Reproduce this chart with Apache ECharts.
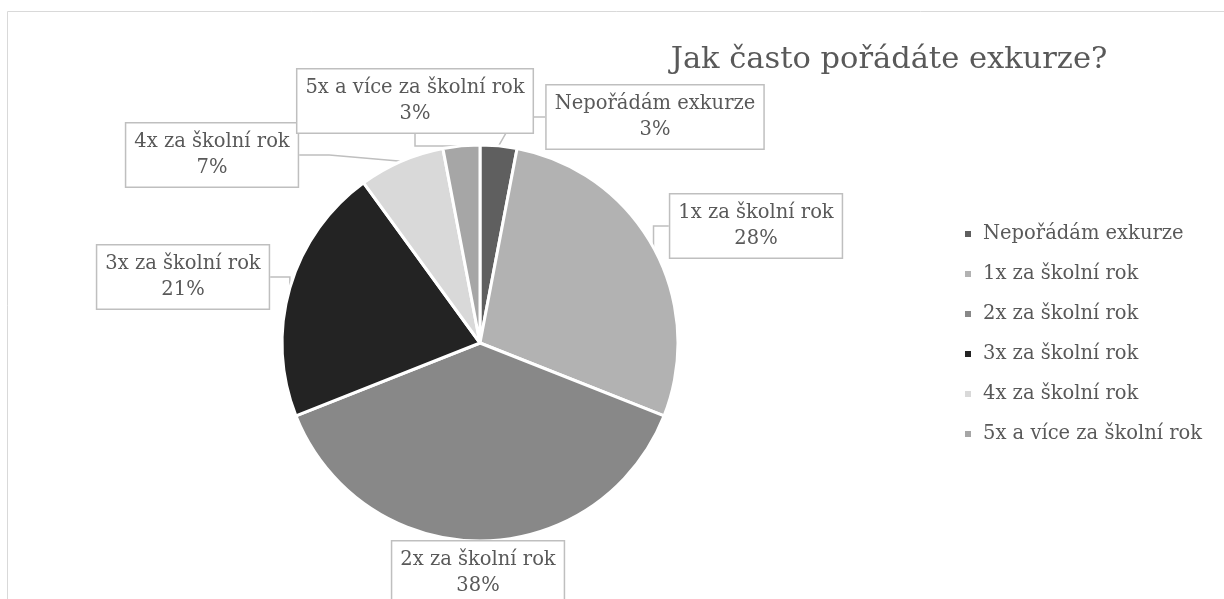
<!DOCTYPE html>
<html>
<head>
<meta charset="utf-8">
<script src="https://cdn.jsdelivr.net/npm/echarts@6/dist/echarts.min.js"></script>
<style>
    html, body { margin: 0; padding: 0; background: #fff; }
    #chart { width: 1224px; height: 599px; }
</style>
</head>
<body>
<div id="chart"></div>
<script>
var categories = ['Nepořádám exkurze', '1x za školní rok', '2x za školní rok',
    '3x za školní rok', '4x za školní rok', '5x a více za školní rok'];
var values = [3, 28, 38, 21, 7, 3];
var colors = ['#5f5f5f', '#b2b2b2', '#888888', '#232323', '#d9d9d9', '#a6a6a6'];

// label box centres (callouts placed by hand like in the source)
var labelPos = [[655, 117], [756, 226], [478, 573], [183, 277], [212, 155], [415, 101]];

var font = '"DejaVu Serif", "Liberation Serif", serif';

var chart = echarts.init(document.getElementById('chart'));
chart.setOption({
    animation: false,
    color: colors,
    graphic: [{
        type: 'rect',
        shape: { x: 7.5, y: 11.5, width: 1400, height: 800 },
        style: { fill: 'none', stroke: '#d9d9d9', lineWidth: 1 },
        silent: true
    }],
    title: {
        text: 'Jak často pořádáte exkurze?',
        left: 884,
        textAlign: 'center',
        top: 40,
        textStyle: {
            fontFamily: font,
            fontWeight: 'normal',
            fontSize: 30.5,
            color: '#595959'
        }
    },
    legend: {
        orient: 'vertical',
        left: 958,
        top: 219,
        itemGap: 20,
        itemWidth: 8,
        itemHeight: 8,
        icon: 'rect',
        textStyle: {
            fontFamily: font,
            fontSize: 19.5,
            color: '#595959',
            lineHeight: 20,
            padding: [0, 0, 0, 6]
        },
        data: categories
    },
    series: [{
        type: 'pie',
        center: [480, 343],
        radius: 198,
        startAngle: 90,
        clockwise: true,
        itemStyle: {
            borderColor: '#ffffff',
            borderWidth: 3
        },
        label: {
            show: true,
            position: 'outside',
            formatter: '{b}\n{d}%',
            fontFamily: font,
            fontSize: 19.5,
            lineHeight: 26,
            color: '#595959',
            align: 'center',
            backgroundColor: '#ffffff',
            borderColor: '#bfbfbf',
            borderWidth: 1.5,
            padding: [6, 8, 5, 8]
        },
        labelLine: {
            show: true,
            lineStyle: { color: '#bfbfbf', width: 1.5 }
        },
        labelLayout: function (params) {
            var p = labelPos[params.dataIndex];
            return {
                x: p[0],
                y: p[1],
                align: 'center',
                verticalAlign: 'middle'
            };
        },
        data: categories.map(function (name, i) {
            return { name: name, value: values[i] };
        })
    }]
});
</script>
</body>
</html>
